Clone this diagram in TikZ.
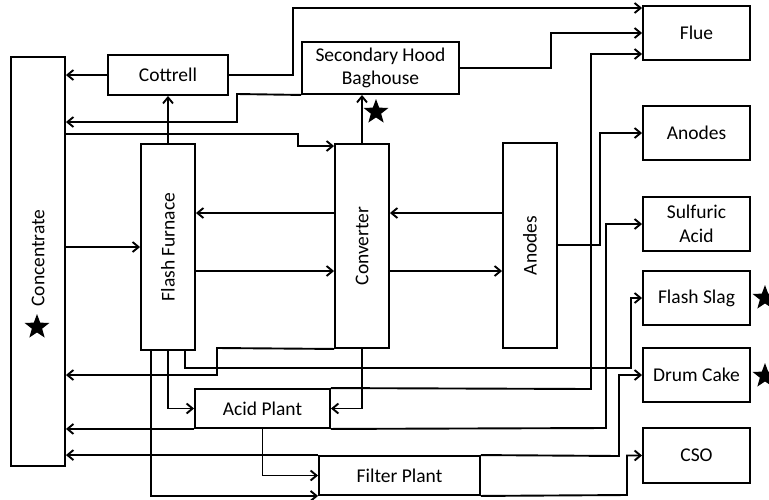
\documentclass[tikz,border=0pt]{standalone}
\usepackage{fontspec}
\usepackage{graphicx}
\setmainfont{Carlito}
\usetikzlibrary{arrows.meta,shapes.geometric}
\begin{document}
\begin{tikzpicture}[x=1pt,y=-1pt,
  box/.style={draw, line width=1.9pt, inner sep=0pt, align=center, font=\fontsize{19.5}{23.5}\selectfont},
  arr/.style={line width=1.9pt, -{Straight Barb[length=6pt,width=10pt]}},
  starmark/.style={star, star points=5, star point ratio=2.4, fill=black, inner sep=0pt, minimum size=26pt}]
\fill[white] (0,0) rectangle (769,499);
\useasboundingbox (0,0) rectangle (769,499);

% boxes
\node[box, minimum width=54pt, minimum height=409pt] (conc) at (38,261.5) {\rotatebox{90}{\hspace{7pt}Concentrate}};
\node[box, minimum width=120pt, minimum height=40pt] (cot) at (168,75) {Cottrell};
\node[box, minimum width=157pt, minimum height=52pt] (bag) at (380.5,68) {Secondary Hood\\Baghouse};
\node[box, minimum width=107pt, minimum height=54pt] (flue) at (696.5,33) {Flue};
\node[box, minimum width=107pt, minimum height=54pt] (anR) at (696.5,133) {Anodes};
\node[box, minimum width=107pt, minimum height=54pt] (sulf) at (696.5,224) {Sulfuric\\Acid};
\node[box, minimum width=107pt, minimum height=54pt] (slag) at (696.5,298) {Flash Slag};
\node[box, minimum width=107pt, minimum height=54pt] (drum) at (696.5,375) {Drum Cake};
\node[box, minimum width=107pt, minimum height=55pt] (cso) at (696.5,455.5) {CSO};
\node[box, minimum width=54pt, minimum height=206pt] (ff) at (168,247) {\rotatebox{90}{Flash Furnace}};
\node[box, minimum width=54pt, minimum height=204pt] (conv) at (362,246) {\rotatebox{90}{Converter}};
\node[box, minimum width=54pt, minimum height=205pt] (anM) at (530,245.5) {\rotatebox{90}{Anodes}};
\node[box, minimum width=135pt, minimum height=39pt] (acid) at (262.5,408.5) {Acid Plant};
\node[box, minimum width=161pt, minimum height=39pt] (filt) at (399.5,475.5) {Filter Plant};

% stars
\node[starmark] (s1) at (37,327) {};
\node[starmark] (s2) at (376,112) {};
\node[starmark] (s3) at (765,298) {};
\node[starmark] (s4) at (765,376) {};

% connectors
\draw[arr] (cot.west) -- (cot.west -| conc.east);
\draw[arr] (cot.east) -- (293,75) -- (293,8) -- (flue.west |- 0,8);
\draw[arr] (bag.south west) -- (237,94) -- (237,122) -- (conc.east |- 0,122);
\draw[arr] (conc.east |- 0,134) -- (298,134) -- (298,146) -- (conv.west |- 0,146);
\draw[arr] (ff.north) -- (cot.south);
\draw[arr] (conv.north) -- (conv.north |- bag.south);
\draw[arr] (bag.east) -- (551,68) |- (flue.west);
\draw[arr] (anM.east |- 0,245) -- (600,245) |- (anR.west);
\draw[arr] (acid.north east) -- (591,389) -- (591,54) -- (flue.west |- 0,54);
\draw[arr] (acid.south east) -- (606,428) |- (sulf.west);
\draw[arr] (acid.south west) -- (conc.east |- acid.south west);
\draw[arr] (acid.south) |- (filt.west);
\draw[arr] ([xshift=17pt]ff.south) |- (631,368) |- (slag.west);
\draw[arr] (ff.south) |- (acid.west);
\draw[arr] ([xshift=-17pt]ff.south) |- (filt.south west);
\draw[arr] (conv.south west) -- (217,348) -- (217,375) -- (conc.east |- 0,375);
\draw[arr] (conv.south) |- (acid.east);
\draw[arr] (filt.north west) -- (conc.east |- filt.north west);
\draw[arr] (filt.north east) -- (619,456) |- (drum.west);
\draw[arr] (filt.south east) -- (627,495) |- (cso.west);
\draw[arr] (conc.east |- 0,247) -- (ff.west);
\draw[arr] (conv.west |- 0,213) -- (ff.east |- 0,213);
\draw[arr] (ff.east |- 0,271) -- (conv.west |- 0,271);
\draw[arr] (anM.west |- 0,213) -- (conv.east |- 0,213);
\draw[arr] (conv.east |- 0,271) -- (anM.west |- 0,271);
\end{tikzpicture}
\end{document}
